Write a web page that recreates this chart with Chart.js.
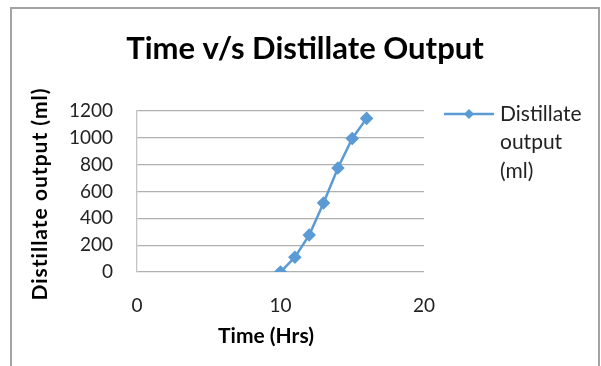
<!DOCTYPE html>
<html>
<head>
<meta charset="utf-8">
<script src="https://cdn.jsdelivr.net/npm/chart.js@4"></script>
<style>
  html, body { margin: 0; padding: 0; background: #fff; overflow: hidden; }
  #frame { position: absolute; left: 10px; top: 7px; width: 590px; height: 400px; border: 2px solid #a3a3a3; box-sizing: border-box; }
  #wrap { position: absolute; left: 0; top: 0; width: 601px; height: 366px; }
</style>
</head>
<body>
<div id="frame"></div>
<div id="wrap"><canvas id="distChart" width="601" height="366"></canvas></div>
<script>
const hours = [10, 11, 12, 13, 14, 15, 16];
const distillate = [0, 110, 275, 515, 775, 995, 1145];
const xTicks = [0, 10, 20];
const yTicks = [0, 200, 400, 600, 800, 1000, 1200];

const chartTitle = 'Time v/s Distillate Output';
const xTitle = 'Time (Hrs)';
const yTitle = 'Distillate output (ml)';
const seriesName = ['Distillate', 'output', '(ml)'];

const blue = '#5b9bd5';
const font = 'Lato, "Open Sans", sans-serif';

// title, axis titles and the wrapped legend are painted by hand
const decorations = {
  id: 'decorations',
  afterDraw(chart) {
    const ctx = chart.ctx;
    ctx.save();
    ctx.fillStyle = '#000';
    ctx.textAlign = 'center';
    ctx.textBaseline = 'alphabetic';

    ctx.font = 'bold 31px ' + font;
    ctx.fillText(chartTitle, 305, 59);

    ctx.textBaseline = 'middle';
    ctx.font = 'bold 21px ' + font;
    ctx.fillText(xTitle, 266, 336);

    ctx.save();
    ctx.translate(40, 194);
    ctx.rotate(-Math.PI / 2);
    ctx.letterSpacing = '1px';
    ctx.fillText(yTitle, 0, 0);
    ctx.restore();

    // legend
    ctx.strokeStyle = blue;
    ctx.lineWidth = 2.5;
    ctx.beginPath();
    ctx.moveTo(444, 114);
    ctx.lineTo(494, 114);
    ctx.stroke();
    ctx.fillStyle = blue;
    ctx.beginPath();
    ctx.moveTo(469, 109);
    ctx.lineTo(474, 114);
    ctx.lineTo(469, 119);
    ctx.lineTo(464, 114);
    ctx.closePath();
    ctx.fill();

    ctx.fillStyle = '#222';
    ctx.textAlign = 'left';
    ctx.font = '21px ' + font;
    seriesName.forEach((line, i) => ctx.fillText(line, 500, 114 + i * 28.5));
    ctx.restore();
  }
};

new Chart(document.getElementById('distChart'), {
  type: 'scatter',
  data: {
    datasets: [{
      label: seriesName.join(' '),
      data: hours.map((h, i) => ({ x: h, y: distillate[i] })),
      showLine: true,
      borderColor: blue,
      backgroundColor: blue,
      borderWidth: 2.5,
      pointStyle: 'rectRot',
      pointRadius: 5,
      pointHoverRadius: 5,
      tension: 0
    }]
  },
  options: {
    responsive: false,
    animation: false,
    events: [],
    layout: { padding: { left: 57, right: 177, top: 111, bottom: 10 } },
    plugins: {
      legend: { display: false },
      title: { display: false },
      tooltip: { enabled: false }
    },
    scales: {
      x: {
        type: 'linear',
        min: 0,
        max: 20,
        afterFit(scale) { scale.height = 84; },
        afterBuildTicks(scale) { scale.ticks = xTicks.map(v => ({ value: v })); },
        grid: { display: false, drawTicks: false },
        border: { display: false },
        ticks: {
          padding: 22, color: '#222', font: { family: font, size: 19 },
          callback: v => String(v)
        }
      },
      y: {
        min: 0,
        max: 1200,
        afterFit(scale) { scale.width = 80; },
        afterBuildTicks(scale) { scale.ticks = yTicks.map(v => ({ value: v })); },
        grid: { color: '#b0b0b0', lineWidth: 1.3, drawTicks: false },
        border: { display: true, color: '#c4c4c4', width: 1.3 },
        ticks: {
          padding: 24, color: '#222', font: { family: font, size: 19 },
          callback: v => String(v)
        }
      }
    }
  },
  plugins: [decorations]
});
</script>
</body>
</html>
